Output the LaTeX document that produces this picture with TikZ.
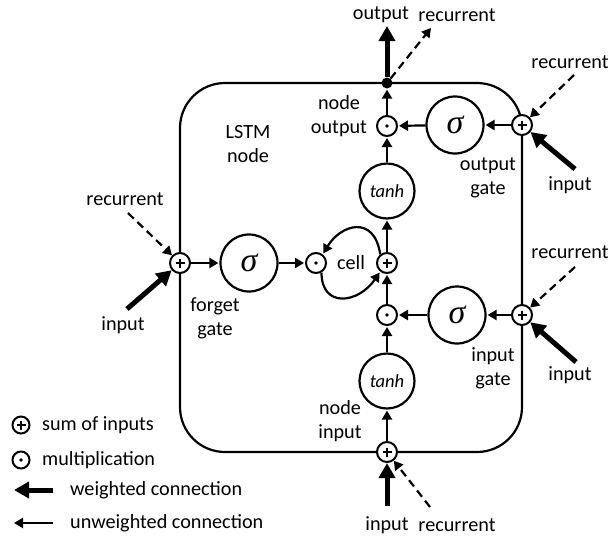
\documentclass[tikz,border=0pt]{standalone}
\usepackage{fontspec}
\setmainfont{Carlito}
\newfontfamily\sigmafont{Liberation Serif}
\usetikzlibrary{arrows.meta}
\begin{document}
\begin{tikzpicture}[x=1pt,y=-1pt,
  lbl/.style={font=\fontsize{20.2}{24}\selectfont, inner sep=0pt, align=center},
  big/.style={circle,draw,line width=2.2pt,minimum size=57pt,inner sep=0pt,fill=white},
  sigmanode/.style={big,font=\sigmafont\itshape\fontsize{34}{36}\selectfont},
  tanhnode/.style={big,minimum size=55pt,font=\fontsize{18.5}{20}\selectfont\itshape},
  sumnode/.style={circle,draw,line width=2pt,minimum size=20pt,inner sep=0pt,fill=white,
    path picture={\draw[black,line width=1.3pt] ([xshift=-4.5pt]path picture bounding box.center) -- ([xshift=4.5pt]path picture bounding box.center);
                  \draw[black,line width=1.3pt] ([yshift=-4.5pt]path picture bounding box.center) -- ([yshift=4.5pt]path picture bounding box.center);}},
  mulnode/.style={circle,draw,line width=2pt,minimum size=20pt,inner sep=0pt,fill=white,
    path picture={\fill[black] (path picture bounding box.center) circle (1.8pt);}},
  conn/.style={line width=2.2pt,-{Triangle[length=9pt,width=10pt]},shorten >=1pt},
  wconn/.style={line width=5pt,-{Triangle[length=15pt,width=16pt]}},
  rconn/.style={line width=2.2pt,dash pattern=on 8pt off 5pt,-{Triangle[length=9pt,width=10pt]}},
]
\useasboundingbox (0,0) rectangle (611,539);

% LSTM box
\draw[line width=2.2pt,rounded corners=45pt] (180,83) rectangle (522,452);

% central column
\node[circle,fill,inner sep=0pt,minimum size=11pt] (odot) at (387,83) {};
\node[mulnode] (omul) at (387,126) {};
\node[sigmanode] (osig) at (455,125) {σ};
\node[sumnode] (osum) at (522,125) {};
\node[tanhnode] (ttop) at (387,191) {tanh};
\node[sumnode] (csum) at (387,263) {};
\node[mulnode] (fmul) at (316,263) {};
\node[mulnode] (imul) at (387,315) {};
\node[sigmanode] (isig) at (457,315) {σ};
\node[sumnode] (isum) at (522,315) {};
\node[tanhnode] (tbot) at (387,381) {tanh};
\node[sumnode] (bsum) at (387,452) {};
\node[sumnode] (fsum) at (180,263) {};
\node[sigmanode] (fsig) at (249,263) {σ};

% internal connections
\draw[conn] (bsum) -- (tbot);
\draw[conn] (tbot) -- (imul);
\draw[conn] (imul) -- (csum);
\draw[conn] (csum) -- (ttop);
\draw[conn] (ttop) -- (omul);
\draw[conn] (omul) -- (odot);
\draw[conn] (osum) -- (osig);
\draw[conn] (osig) -- (omul);
\draw[conn] (isum) -- (isig);
\draw[conn] (isig) -- (imul);
\draw[conn] (fsum) -- (fsig);
\draw[conn] (fsig) -- (fmul);
\draw[conn] (csum.128) .. controls +(-6,-40) and +(18,-30) .. (fmul.52);
\draw[conn] (fmul.-60) .. controls +(0,36) and +(-22,32) .. (csum.-128);

% labels
\node[lbl] (llstm) at (248,144) {LSTM\\node};
\node[lbl] (lcell) at (351,263) {cell};
\node[lbl] (lnout) at (339,116) {node\\output};
\node[lbl] (logate) at (488,178) {output\\gate};
\node[lbl] (ligate) at (493,368) {input\\gate};
\node[lbl] (lfgate) at (215,318) {forget\\gate};
\node[lbl] (lnin) at (340,421) {node\\input};

% top outputs
\node[lbl] (tout) at (381,15) {output};
\node[lbl] (trec) at (457,15) {recurrent};
\coordinate (oout) at (387,26);
\coordinate (orec) at (431,28);
\draw[wconn] (odot) -- (oout);
\draw[rconn] (odot) -- (orec);

% output gate inputs
\node[lbl] (orlbl) at (570,62) {recurrent};
\node[lbl] (oilbl) at (570,185) {input};
\coordinate (orsrc) at (574,75);
\coordinate (oisrc) at (575,169);
\draw[rconn] (orsrc) -- (osum);
\draw[wconn] (oisrc) -- (osum);

% input gate inputs
\node[lbl] (irlbl) at (570,252) {recurrent};
\node[lbl] (iilbl) at (570,375) {input};
\coordinate (irsrc) at (575,267);
\coordinate (iisrc) at (576,362);
\draw[rconn] (irsrc) -- (isum);
\draw[wconn] (iisrc) -- (isum);

% forget gate inputs
\node[lbl] (frlbl) at (125,199) {recurrent};
\node[lbl] (filbl) at (123,325) {input};
\coordinate (frsrc) at (128,213);
\coordinate (fisrc) at (127,309);
\draw[rconn] (frsrc) -- (fsum);
\draw[wconn] (fisrc) -- (fsum);

% node input inputs
\node[lbl] (bilbl) at (387,525) {input};
\node[lbl] (brlbl) at (457,525) {recurrent};
\coordinate (bisrc) at (387,506);
\coordinate (brsrc) at (430,507);
\draw[wconn] (bisrc) -- (bsum);
\draw[rconn] (brsrc) -- (bsum);

% legend
\node[sumnode,minimum size=17pt] (legsum) at (21,425) {};
\node[lbl,anchor=west] (legsumt) at (42,425) {sum of inputs};
\node[mulnode,minimum size=17pt] (legmul) at (21,460) {};
\node[lbl,anchor=west] (legmult) at (42,460) {multiplication};
\coordinate (legw1) at (53,490);
\coordinate (legw2) at (14,490);
\draw[wconn] (legw1) -- (legw2);
\node[lbl,anchor=west] (legwt) at (70,490) {weighted connection};
\coordinate (legu1) at (53,523);
\coordinate (legu2) at (14,523);
\draw[conn,shorten >=0pt] (legu1) -- (legu2);
\node[lbl,anchor=west] (legut) at (70,523) {unweighted connection};
\end{tikzpicture}
\end{document}
